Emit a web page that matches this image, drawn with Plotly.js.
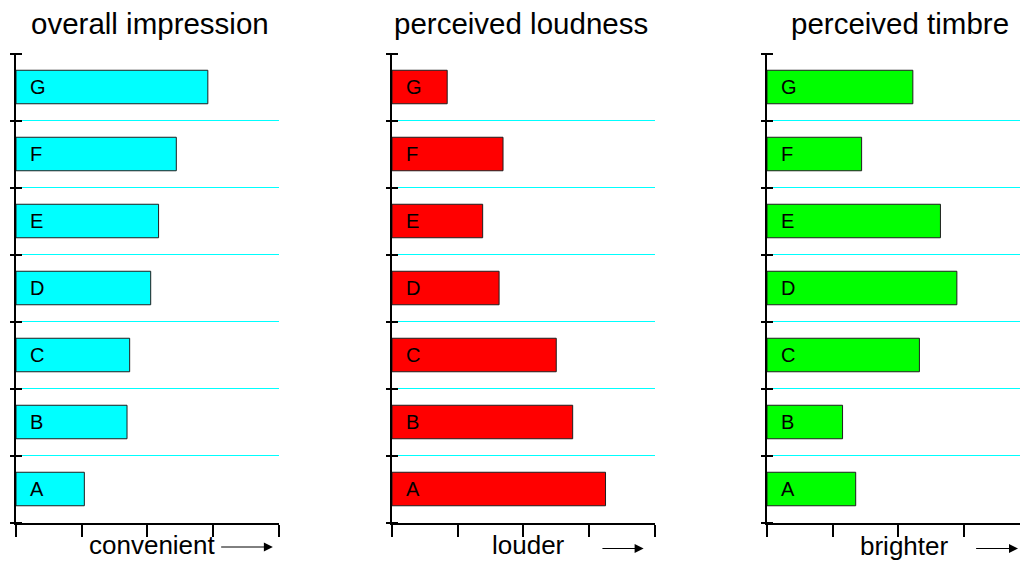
<!DOCTYPE html>
<html><head><meta charset="utf-8">
<script src="https://cdn.plot.ly/plotly-3.0.1.min.js"></script>
<style>html,body{margin:0;padding:0;overflow:hidden;background:#fff}</style>
</head><body><div id="chart" style="width:1020px;height:562px"></div>
<script>
// ---- data ----
const categories = ['A', 'B', 'C', 'D', 'E', 'F', 'G'];
const overallImpression = [1.04, 1.69, 1.73, 2.05, 2.17, 2.44, 2.92];
const perceivedLoudness = [3.25, 2.75, 2.50, 1.63, 1.38, 1.69, 0.84];
const perceivedTimbre   = [1.35, 1.15, 2.32, 2.89, 2.64, 1.44, 2.22];
const panelTitles = ['overall impression', 'perceived loudness', 'perceived timbre'];
const axisLabels  = ['convenient', 'louder', 'brighter'];
const xTickVals   = [0, 1, 2, 3, 4];

// ---- style / layout constants ----
const W = 1020, H = 562;
const FONT = 'Liberation Sans, Arial, Helvetica, sans-serif';
const series = [overallImpression, perceivedLoudness, perceivedTimbre];
const barColors = ['#00ffff', '#ff0000', '#00ff00'];
const panelLeftPx = [16, 392, 767];
const pxPerUnit = 65.7;
const plotTopPx = 53.5, plotBottomPx = 522.5;
const titleX = [2.04, 1.97, 2.03];
const labelX = [2.08, 2.08, 2.08];
const labelMidPx = [545, 545, 545.5];
const arrowYPx = [547, 548.5, 548.5];
const arrowStart = [3.10, 3.18, 3.16];
const arrowEnd = [3.91, 3.83, 3.82];
const py = p => 1 - p / H;

const yIdx = categories.map((c, i) => i);
const yRange = [-0.5, categories.length - 0.5];
const yTicks = categories.map((c, i) => i - 0.5).concat([categories.length - 0.5]);

const traces = [];
const layout = {
  width: W, height: H,
  margin: {l: 0, r: 0, t: 0, b: 0},
  paper_bgcolor: '#fff', plot_bgcolor: 'rgba(0,0,0,0)',
  showlegend: false,
  font: {family: FONT, color: '#000'},
  annotations: []
};

series.forEach((vals, i) => {
  const n = i === 0 ? '' : String(i + 1);
  const xid = 'x' + n, yid = 'y' + n, yTickId = 'y' + (i + 4);
  const x0 = panelLeftPx[i] / W;
  const x1Px = Math.min(panelLeftPx[i] + 4 * pxPerUnit, W);
  const xMax = (x1Px - panelLeftPx[i]) / pxPerUnit;
  traces.push({
    type: 'bar', orientation: 'h',
    x: vals, y: yIdx,
    xaxis: xid, yaxis: yid,
    width: 0.5,
    marker: {color: barColors[i], line: {color: '#1e1e1e', width: 1}},
    text: categories.map(c => '\u00a0\u00a0' + c),
    textposition: 'inside', insidetextanchor: 'start', textangle: 0,
    textfont: {family: FONT, size: 20, color: '#000'},
    hoverinfo: 'skip'
  });
  // invisible trace so the crossing-tick axis gets drawn
  traces.push({
    type: 'scatter', mode: 'markers', x: [null], y: [null],
    xaxis: xid, yaxis: yTickId, hoverinfo: 'skip', showlegend: false,
    marker: {opacity: 0}
  });
  layout['xaxis' + n] = {
    domain: [x0, x1Px / W], range: [0, xMax], anchor: yid,
    tickmode: 'array', tickvals: xTickVals, showticklabels: false,
    ticks: 'outside', ticklen: 12, tickwidth: 2, tickcolor: '#000',
    showline: true, linecolor: '#000', linewidth: 2,
    showgrid: false, zeroline: false, fixedrange: true
  };
  layout['yaxis' + n] = {
    domain: [py(plotBottomPx), py(plotTopPx)], range: yRange, anchor: xid,
    tickmode: 'array', tickvals: yTicks, showticklabels: false,
    ticks: '', showline: true, linecolor: '#000', linewidth: 2,
    showgrid: true, gridcolor: '#00ffff', gridwidth: 1,
    zeroline: false, fixedrange: true
  };
  // crossing tick marks: a free axis just right of the axis line with long outside ticks
  layout['yaxis' + (i + 4)] = {
    overlaying: yid, anchor: 'free', side: 'left',
    position: (panelLeftPx[i] + 6) / W,
    range: yRange, tickmode: 'array', tickvals: yTicks, showticklabels: false,
    ticks: 'outside', ticklen: 12, tickwidth: 2, tickcolor: '#000',
    showline: false, showgrid: false, zeroline: false, fixedrange: true
  };
  layout.annotations.push({
    xref: xid, x: titleX[i], yref: 'paper', y: py(23), xanchor: 'center', yanchor: 'middle',
    text: panelTitles[i], showarrow: false, font: {family: FONT, size: 29.5, color: '#000'}
  });
  layout.annotations.push({
    xref: xid, x: labelX[i], yref: 'paper', y: py(labelMidPx[i]), xanchor: 'center', yanchor: 'middle',
    text: axisLabels[i], showarrow: false, font: {family: FONT, size: 26, color: '#000'}
  });
  layout.annotations.push({
    xref: xid, x: arrowEnd[i], axref: xid, ax: arrowStart[i],
    yref: 'paper', y: py(arrowYPx[i]), ayref: 'pixel', ay: 0,
    text: '', showarrow: true, arrowhead: 2, arrowsize: 1.8, arrowwidth: 1,
    arrowcolor: '#000', standoff: 0, startstandoff: 0
  });
});

Plotly.newPlot('chart', traces, layout, {displayModeBar: false, staticPlot: true});
</script></body></html>
